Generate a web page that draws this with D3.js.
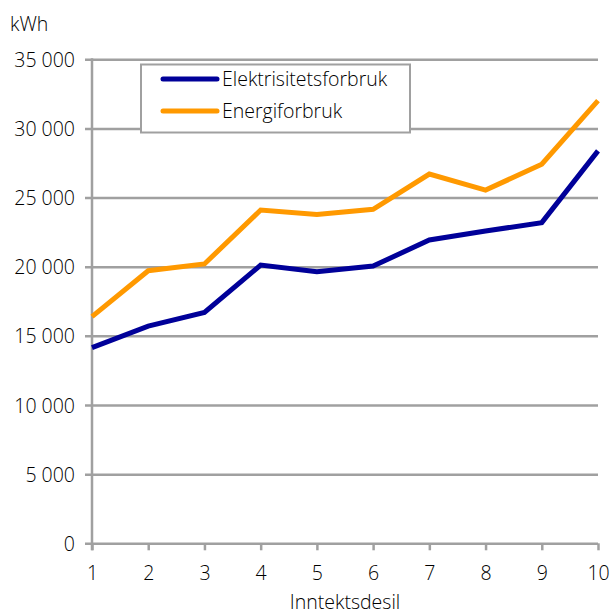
<!DOCTYPE html>
<html>
<head>
<meta charset="utf-8">
<script src="https://cdn.jsdelivr.net/npm/d3@7"></script>
<style>
  html, body { margin: 0; padding: 0; background: #fff; }
  svg { display: block; }
  text { font-family: "Open Sans", "Noto Sans", sans-serif; font-weight: 300; fill: #000; }
</style>
</head>
<body>
<svg id="chart" width="611" height="615"></svg>
<script>
// Income deciles and average annual consumption (kWh)
const deciles = [1, 2, 3, 4, 5, 6, 7, 8, 9, 10];
const elektrisitet = [14150, 15700, 16700, 20120, 19630, 20050, 21930, 22580, 23190, 28380];
const energi = [16390, 19710, 20200, 24100, 23780, 24150, 26700, 25540, 27410, 32010];
const yTicks = [0, 5000, 10000, 15000, 20000, 25000, 30000, 35000];
const seriesNames = ["Elektrisitetsforbruk", "Energiforbruk"];
const seriesColors = ["#000099", "#ff9900"];

const svg = d3.select("#chart");
const plotLeft = 92, plotRight = 598, plotTop = 59.3, plotBottom = 543.3;
const fontSize = 19.5;

const x = d3.scaleLinear().domain([1, 10]).range([plotLeft, plotRight]);
const y = d3.scaleLinear().domain([0, 35000]).range([plotBottom, plotTop]);

const grey = "#a0a0a0";
const fmt = v => d3.format(",")(v).replace(/,/g, " ");

// Horizontal gridlines with ticks extending left of the axis
const yAxis = d3.axisLeft(y).tickValues(yTicks).tickSize(-(plotRight - plotLeft)).tickFormat(fmt).tickPadding(17);
const gy = svg.append("g").attr("transform", `translate(${plotLeft},0)`).call(yAxis);
gy.select(".domain").remove();
gy.selectAll(".tick line").attr("x1", -7).attr("stroke", grey).attr("stroke-width", 2.5);
gy.selectAll(".tick text").attr("font-size", fontSize).attr("fill", "#000").attr("dy", "0.36em");

// Bottom axis
const xAxis = d3.axisBottom(x).tickValues(deciles).tickSize(7).tickPadding(16).tickFormat(d3.format("d"));
const gx = svg.append("g").attr("transform", `translate(0,${plotBottom})`).call(xAxis);
gx.select(".domain").remove();
gx.selectAll(".tick line").attr("stroke", grey).attr("stroke-width", 2.5);
gx.selectAll(".tick text").attr("font-size", fontSize).attr("fill", "#000");

// Vertical axis line
svg.append("line")
  .attr("x1", plotLeft).attr("x2", plotLeft)
  .attr("y1", plotTop - 1).attr("y2", plotBottom + 7)
  .attr("stroke", grey).attr("stroke-width", 2.5);

// Lines
const line = d3.line().x((d, i) => x(deciles[i])).y(d => y(d));
[elektrisitet, energi].forEach((vals, k) => {
  svg.append("path")
    .datum(vals)
    .attr("d", line)
    .attr("fill", "none")
    .attr("stroke", seriesColors[k])
    .attr("stroke-width", 5)
    .attr("stroke-linejoin", "miter");
});

// Legend
const lg = svg.append("g");
lg.append("rect")
  .attr("x", 141).attr("y", 64.5).attr("width", 269).attr("height", 68)
  .attr("fill", "#fff").attr("stroke", grey).attr("stroke-width", 2);
seriesNames.forEach((name, k) => {
  const ly = 79 + k * 32;
  lg.append("line")
    .attr("x1", 163).attr("x2", 217).attr("y1", ly).attr("y2", ly)
    .attr("stroke", seriesColors[k]).attr("stroke-width", 5).attr("stroke-linecap", "round");
  lg.append("text")
    .attr("x", 222).attr("y", ly).attr("dy", "0.36em")
    .attr("font-size", fontSize).text(name);
});

// Unit and axis title
svg.append("text").attr("x", 10).attr("y", 31).attr("font-size", fontSize).text("kWh");
svg.append("text").attr("x", 345).attr("y", 609).attr("text-anchor", "middle")
  .attr("font-size", fontSize).text("Inntektsdesil");
</script>
</body>
</html>
